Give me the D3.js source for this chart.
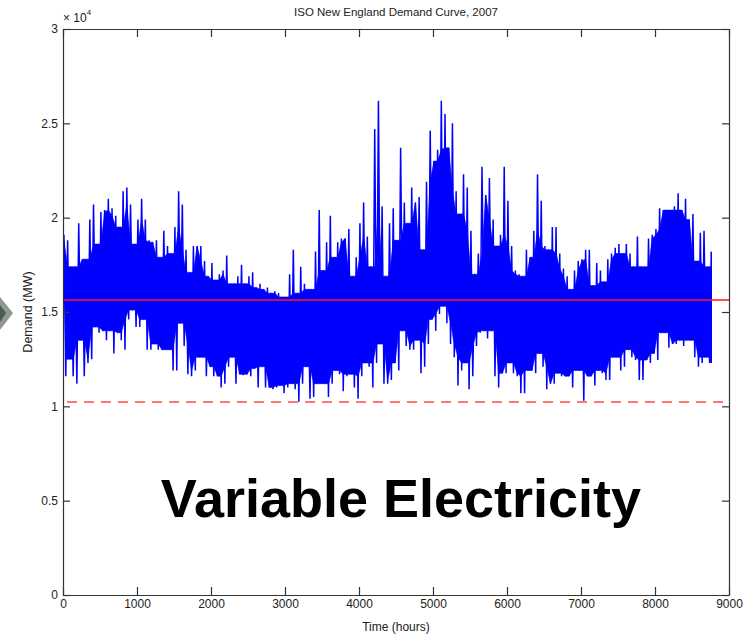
<!DOCTYPE html>
<html>
<head>
<meta charset="utf-8">
<script src="https://cdn.jsdelivr.net/npm/d3@7"></script>
<style>
  body { margin: 0; background: #fff; }
  text { font-family: "Liberation Sans", Arial, sans-serif; }
</style>
</head>
<body>
<div id="chart"></div>
<script>
const binHours = 50;
const lastHour = 8760;

const demandHigh = [
  19100, 18800, 17400, 17400, 19700, 17800, 17800, 19900, 20700, 18600,
  20300, 20400, 21000, 20500, 20100, 19500, 21400, 21600, 20700, 18600,
  19900, 21000, 19900, 18800, 18700, 18800, 17900, 19300, 18500, 18100,
  19500, 21400, 20700, 18300, 17100, 18500, 18500, 18500, 17700, 16900,
  17600, 16700, 17000, 17200, 18000,
  16500, 16500, 16900, 17500, 16500, 16900, 17100, 16300, 16500, 16200,
  16300, 16000, 16100, 16000, 15800, 15800, 17000, 18300, 16000, 17400,
  16500, 16200, 16200, 18200, 20400, 17200, 18700, 20100, 17900, 18700,
  18900, 18900, 19400, 16900, 17900, 19700, 20800, 19000, 17400, 24700,
  26200, 20600, 16900, 19700, 20500,
  18800, 23700, 20800, 19700, 21600, 20800, 21100, 18300, 21900, 24600,
  23000, 23600, 26200, 25500, 23700, 25000, 21400, 20200, 22300, 21600,
  19300, 17000, 18100, 22700, 21200, 22100, 19900, 18500, 19100, 22700,
  20900, 18500, 17200, 17000, 16900, 18300, 17900, 19300, 22300, 20900,
  18500, 18300, 19500,
  19500, 18100, 17300, 16900, 16200, 17200, 17700, 17800, 18300, 18300,
  16400, 17600, 17200, 16600, 17800, 18100, 18400, 18600, 18100, 18600,
  18100, 17400, 19000, 17400, 17400, 18900, 19100, 19400, 20500, 20400,
  20400, 20400, 20600, 21300, 20400, 21000, 19900, 20200, 17700, 19200,
  19300, 17400, 18200
];

const demandLow = [
  11600, 12500, 11600, 11200, 13500, 11600, 12300, 12500, 14200, 13900,
  14000, 13500, 14000, 12800, 13900, 13500, 13000, 14600, 15100, 14200,
  14200, 14600, 13000, 13000, 13300, 13000, 13000, 13000, 13000, 11900,
  11900, 14400, 13200, 11700, 11600, 11900, 12600, 12600, 11600, 12100,
  11600, 11600, 11000, 11200, 12100,
  12600, 11200, 11700, 11650, 11700, 11600, 12000, 11000, 12100, 11000,
  11000, 10900, 11000, 11100, 10700, 11000, 11200, 10900, 10250, 11200,
  12100, 10400, 10500, 11200, 11200, 11200, 10500, 11200, 11900, 11700,
  10800, 11600, 11700, 11000, 10400, 11600, 12300, 12100, 11000, 12300,
  13300, 11200, 11200, 11400, 12300,
  11900, 14000, 13200, 13000, 13000, 13500, 11750, 12100, 13300, 14600,
  14000, 14900, 15300, 14400, 13300, 12600, 11100, 11900, 12300, 10900,
  11600, 13200, 13900, 14000, 13600, 14000, 11600, 11000, 11750, 11750,
  12300, 11750, 11600, 10700, 10700, 11900, 11900, 11750, 12800, 12100,
  10900, 11200, 11200,
  11750, 11600, 11600, 11600, 11000, 11900, 11900, 10300, 11600, 11600,
  11100, 11900, 11750, 11400, 11400, 12600, 12600, 11900, 12100, 13000,
  12600, 12450, 11400, 11400, 12450, 12300, 12800, 12450, 13900, 13900,
  13100, 13300, 13300, 13500, 13200, 13500, 13500, 12600, 12100, 12300,
  12600, 12300, 12300
];

const meanDemand = 15640;
const minDemand = 10230;

const xTicks = [0, 1000, 2000, 3000, 4000, 5000, 6000, 7000, 8000, 9000];
const yTicks = [0, 5000, 10000, 15000, 20000, 25000, 30000];
const yTickLabels = ["0", "0.5", "1", "1.5", "2", "2.5", "3"];

const width = 754, height = 635;
const svg = d3.select("#chart").append("svg")
  .attr("width", width).attr("height", height);

const x = d3.scaleLinear().domain([0, 9000]).range([63, 729]);
const y = d3.scaleLinear().domain([0, 30000]).range([595, 29]);

// slide arrow peeking in at the left edge
svg.append("polygon").attr("points", "0,297 13,313 0,330").attr("fill", "#8e9a8e");
svg.append("polygon").attr("points", "0,305 6,313 0,322").attr("fill", "#4e5a5a");

// demand curve: each bin has a peak (early in the bin) and a trough (late in the bin)
const bins = demandHigh.map((h, i) => ({
  tHigh: Math.min(i * binHours + binHours * 0.25, lastHour),
  tLow: Math.min(i * binHours + binHours * 0.75, lastHour),
  high: h,
  low: demandLow[i]
}));

// dense core of the trace: where neighbouring days overlap (lowest nearby peak / highest nearby trough)
const near = i => bins.slice(Math.max(0, i - 1), i + 2);
const core = bins.map((d, i) => ({
  tHigh: d.tHigh,
  tLow: d.tLow,
  top: d3.min(near(i), b => b.high),
  bottom: d3.max(near(i), b => b.low)
}));

svg.append("path")
  .datum(core)
  .attr("fill", "#0000ff")
  .attr("stroke", "#0000ff")
  .attr("stroke-width", 0.6)
  .attr("d", d3.area()
    .x1(d => x(d.tHigh)).y1(d => y(d.top))
    .x0(d => x(d.tLow)).y0(d => y(d.bottom)));

// the trace itself, zigzagging peak -> trough
const pts = bins.flatMap(d => [[d.tHigh, d.high], [d.tLow, d.low]]);
svg.append("path")
  .datum(pts)
  .attr("fill", "none")
  .attr("stroke", "#0000ff")
  .attr("stroke-width", 1.5)
  .attr("d", d3.line().x(d => x(d[0])).y(d => y(d[1])));

// mean and minimum lines
svg.append("line")
  .attr("x1", x(0)).attr("x2", x(9000))
  .attr("y1", y(meanDemand)).attr("y2", y(meanDemand))
  .attr("stroke", "#ff1a1a").attr("stroke-width", 1.6);

svg.append("line")
  .attr("x1", x(0) + 4).attr("x2", x(9000))
  .attr("y1", y(minDemand)).attr("y2", y(minDemand))
  .attr("stroke", "#ff4a4a").attr("stroke-width", 1.6)
  .attr("stroke-dasharray", "10,7");

// axes (box with inward ticks)
const axisColor = "#333";
function styleAxis(g) {
  g.selectAll(".domain").attr("stroke", axisColor).attr("stroke-width", 1.2);
  g.selectAll(".tick line").attr("stroke", axisColor).attr("stroke-width", 1.2);
  g.selectAll("text").attr("fill", "#222").style("font-size", "12px")
    .style("font-family", "'Liberation Sans', Arial, sans-serif");
}

svg.append("g")
  .attr("transform", `translate(0,${y(0)})`)
  .call(d3.axisBottom(x).tickValues(xTicks).tickSizeInner(-8).tickSizeOuter(0)
    .tickPadding(4).tickFormat(d3.format("d")))
  .call(styleAxis);

svg.append("g")
  .attr("transform", `translate(0,${y(30000)})`)
  .call(d3.axisTop(x).tickValues(xTicks).tickSizeInner(-8).tickSizeOuter(0).tickFormat(""))
  .call(styleAxis);

svg.append("g")
  .attr("transform", `translate(${x(0)},0)`)
  .call(d3.axisLeft(y).tickValues(yTicks).tickSizeInner(-7).tickSizeOuter(0)
    .tickPadding(5).tickFormat((d, i) => yTickLabels[i]))
  .call(styleAxis);

svg.append("g")
  .attr("transform", `translate(${x(9000)},0)`)
  .call(d3.axisRight(y).tickValues(yTicks).tickSizeInner(-7).tickSizeOuter(0).tickFormat(""))
  .call(styleAxis);

// exponent label
const expo = svg.append("text").attr("x", 63).attr("y", 22)
  .attr("fill", "#222").style("font-size", "12px");
expo.append("tspan").text("\u00d7 10");
expo.append("tspan").attr("dy", -7).style("font-size", "8px").text("4");

// title and axis labels
svg.append("text")
  .attr("x", 396).attr("y", 16).attr("text-anchor", "middle")
  .attr("fill", "#222").style("font-size", "11.5px")
  .text("ISO New England Demand Curve, 2007");

svg.append("text")
  .attr("x", 396).attr("y", 631).attr("text-anchor", "middle")
  .attr("fill", "#222").style("font-size", "12px")
  .text("Time (hours)");

svg.append("text")
  .attr("transform", "translate(32,312) rotate(-90)")
  .attr("text-anchor", "middle")
  .attr("fill", "#222").style("font-size", "12.5px")
  .text("Demand (MW)");

// slide caption
svg.append("text")
  .attr("x", 401).attr("y", 517).attr("text-anchor", "middle")
  .attr("fill", "#000").style("font-size", "54px").style("font-weight", "bold")
  .text("Variable Electricity");
</script>
</body>
</html>
